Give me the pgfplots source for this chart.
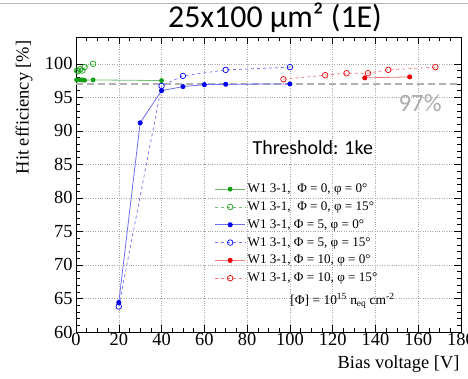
\documentclass[border=0pt]{standalone}
\usepackage{pgfplots}
\pgfplotsset{compat=1.18}
\usepackage{fontspec}
\setmainfont{Liberation Serif}
\newfontfamily\calibri{Carlito}
\definecolor{rgreen}{RGB}{20,160,20}
\definecolor{lgreen}{RGB}{110,190,110}
\definecolor{rblue}{RGB}{0,0,240}
\definecolor{lblue}{RGB}{110,110,240}
\definecolor{rred}{RGB}{240,0,0}
\definecolor{lred}{RGB}{240,120,120}
\begin{document}
\begin{tikzpicture}[x=1bp,y=1bp]
\path[use as bounding box] (-76,-46) rectangle (392,332);
\draw[color={rgb,255:red,190;green,180;blue,175},line width=1pt] (-76,329) -- (392,329);
\begin{axis}[
  at={(0,0)}, anchor=south west,
  scale only axis, width=385bp, height=295bp,
  xmin=0, xmax=180, ymin=60, ymax=104,
  xtick={0,20,...,180}, ytick={60,65,...,100},
  minor x tick num=3, minor y tick num=4,
  tick align=inside, major tick length=7bp, minor tick length=4bp,
  xtick pos=both, ytick pos=both,
  grid=major, major grid style={dotted, gray!70, line width=0.5pt},
  tick style={black, line width=0.5pt},
  axis line style={line width=0.7pt},
  /pgf/number format/assume math mode=true,
  ticklabel style={font=\fontsize{18.5}{20}\selectfont},
  xticklabel style={yshift=2bp},
  xlabel={Bias voltage [V]},
  ylabel={Hit efficiency [\%]},
  label style={font=\fontsize{18.5}{20}\selectfont},
  xlabel style={at={(rel axis cs:1,0)}, anchor=north east, yshift=-20bp, xshift=2bp},
  ylabel style={at={(rel axis cs:0,1)}, anchor=south east, yshift=40bp, xshift=0bp},
  legend cell align=left,
  legend style={at={(rel axis cs:0.36,0.512)}, anchor=north west, draw=none, fill=none,
    row sep=1.8bp, inner sep=0pt,
    nodes={font=\fontsize{13.2}{15}\selectfont, inner sep=2bp, text height=9.5bp, text depth=2.5bp}},
  legend image code/.code={\draw[#1] (0bp,0bp) -- (30bp,0bp);
    \draw[#1,only marks] plot coordinates {(15bp,0bp)};},
]
\addplot[gray!60, dashed, line width=1.8pt, dash pattern=on 7bp off 4bp, forget plot] coordinates {(0,97) (180,97)};
% Phi=0, phi=0
\addplot[lgreen, line width=0.8pt, mark=*, mark options={rgreen, fill=rgreen, scale=1.0, solid}]
  coordinates {(0.3,97.6) (1,97.6) (2,97.6) (3,97.6) (4,97.55) (8,97.6) (40,97.5)};
% Phi=0, phi=15
\addplot[lgreen, line width=0.7pt, dashed, mark=o, mark options={rgreen, scale=1.4, solid, line width=0.7pt}]
  coordinates {(0.5,99.0) (1,98.9) (2,99.2) (3,99.0) (4,99.5) (8,100.0)};
% Phi=5, phi=0
\addplot[lblue, line width=0.8pt, mark=*, mark options={rblue, fill=rblue, scale=1.05, solid}]
  coordinates {(20,64.4) (30,91.2) (40,96.0) (50,96.6) (60,96.9) (70,96.95) (100,97.0)};
% Phi=5, phi=15
\addplot[lblue, line width=0.7pt, dashed, mark=o, mark options={rblue, scale=1.4, solid, line width=0.7pt}]
  coordinates {(20,63.8) (40,96.7) (50,98.2) (70,99.1) (100,99.5)};
% Phi=10, phi=0
\addplot[lred, line width=0.8pt, mark=*, mark options={rred, fill=rred, scale=1.05, solid}]
  coordinates {(135,97.9) (156,98.05)};
% Phi=10, phi=15
\addplot[lred, line width=0.7pt, dashed, mark=o, mark options={rred, scale=1.4, solid, line width=0.7pt}]
  coordinates {(97,97.7) (116.5,98.3) (126.5,98.6) (136.5,98.6) (146,99.1) (168,99.5)};
\legend{{W1 3-1,\ \ Φ = 0, φ = 0°}, {W1 3-1,\ \ Φ = 0, φ = 15°}, {W1 3-1, Φ = 5, φ = 0°}, {W1 3-1, Φ = 5, φ = 15°}, {W1 3-1, Φ = 10, φ = 0°}, {W1 3-1, Φ = 10, φ = 15°}}
\node[anchor=east, font=\fontsize{13.5}{15}\selectfont, inner sep=0pt] at (axis cs:149,64.6) {[Φ] = 10\textsuperscript{15} n\textsubscript{eq} cm\textsuperscript{-2}};
\node[font=\calibri\fontsize{20}{22}\selectfont] at (axis cs:110.7,87.5) {Threshold: 1ke};
\node[anchor=east, font=\calibri\fontsize{25}{27}\selectfont, text=gray!65, inner sep=0pt] at (axis cs:171,94.1) {97\%};
\end{axis}
\node[font=\calibri\fontsize{32}{34}\selectfont, anchor=base] at (199,305) {25x100 µm² (1E)};
\end{tikzpicture}
\end{document}
